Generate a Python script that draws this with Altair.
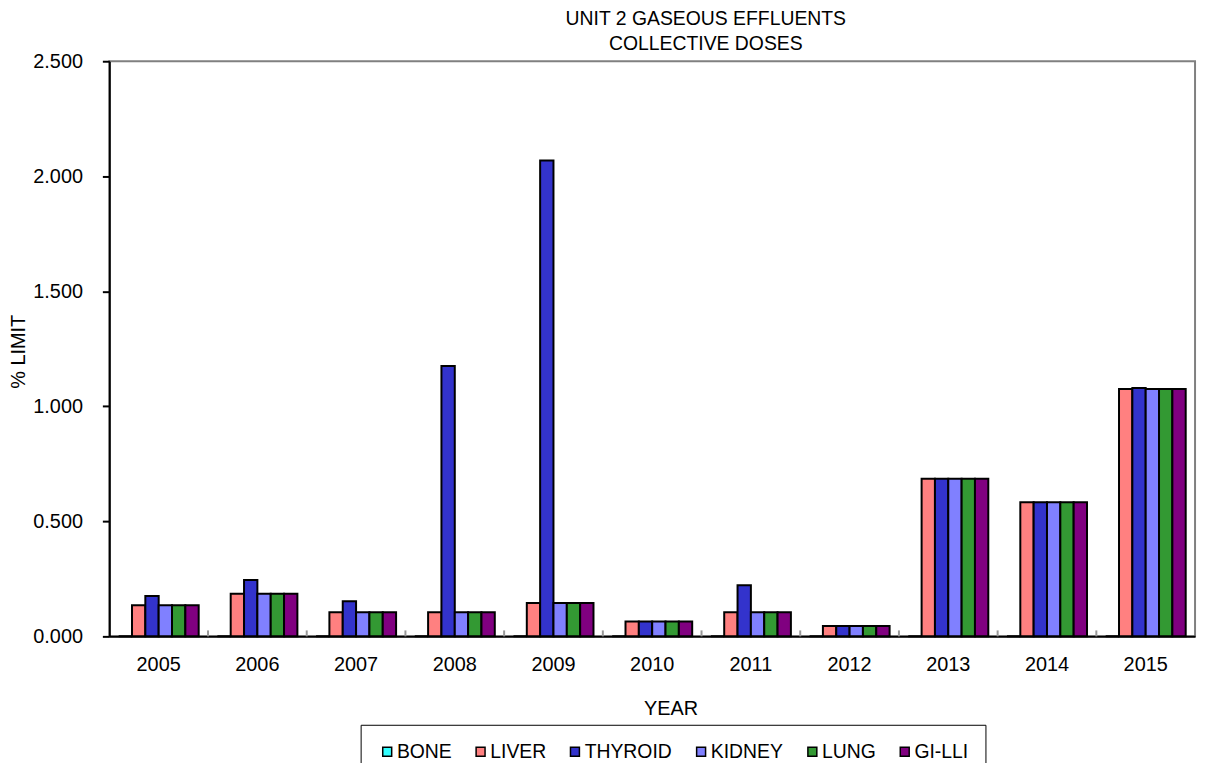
import altair as alt
import pandas as pd

years = [str(y) for y in range(2005, 2016)]
organs = ["BONE", "LIVER", "THYROID", "KIDNEY", "LUNG", "GI-LLI"]
colors = ["#33FFFF", "#FF8080", "#3333CC", "#8080FF", "#339933", "#800080"]

bone = [0.0, 0.0, 0.0, 0.0, 0.0, 0.0, 0.0, 0.0, 0.0, 0.0, 0.0]
liver = [0.135, 0.185, 0.105, 0.105, 0.145, 0.065, 0.105, 0.045, 0.685, 0.583, 1.075]
thyroid = [0.175, 0.245, 0.153, 1.175, 2.068, 0.065, 0.222, 0.045, 0.685, 0.583, 1.08]
kidney = [0.135, 0.185, 0.105, 0.105, 0.145, 0.065, 0.105, 0.045, 0.685, 0.583, 1.075]
lung = [0.135, 0.185, 0.105, 0.105, 0.145, 0.065, 0.105, 0.045, 0.685, 0.583, 1.075]
gilli = [0.135, 0.185, 0.105, 0.105, 0.145, 0.065, 0.105, 0.045, 0.685, 0.583, 1.075]

rows = []
for organ, vals in zip(organs, [bone, liver, thyroid, kidney, lung, gilli]):
    for y, v in zip(years, vals):
        rows.append({"year": y, "organ": organ, "value": v})
df = pd.DataFrame(rows)

FONT = "Liberation Sans"

xenc = alt.X(
    "year:N",
    scale=alt.Scale(paddingInner=0, paddingOuter=0),
    title="YEAR",
    axis=alt.Axis(
        ticks=False, labelAngle=0, labelPadding=18, labelFontSize=20,
        titleX=565, titleY=73, titleBaseline="middle", titleAlign="center",
        titleFontSize=20, titleFontWeight="normal",
    ),
)

bars = alt.Chart(df).mark_bar(stroke="black", strokeWidth=2).encode(
    x=xenc,
    xOffset=alt.XOffset("organ:N", sort=organs,
                        scale=alt.Scale(paddingOuter=0.7, paddingInner=0)),
    y=alt.Y(
        "value:Q",
        scale=alt.Scale(domain=[0, 2.5], nice=False),
        title="% LIMIT",
        axis=alt.Axis(
            values=[0, 0.5, 1.0, 1.5, 2.0, 2.5], format=".3f", grid=False,
            tickSize=7, tickColor="black", tickWidth=2, labelPadding=20,
            labelFontSize=20, titleX=-91, titleY=292, titleAngle=270,
            titleAlign="center", titleBaseline="middle", titleFontSize=20,
            titleFontWeight="normal",
        ),
    ),
    color=alt.Color(
        "organ:N", sort=organs,
        scale=alt.Scale(domain=organs, range=colors),
        legend=alt.Legend(
            title=None, orient="none", legendX=253, legendY=668,
            direction="horizontal", symbolType="square", symbolSize=81,
            symbolStrokeColor="black", symbolStrokeWidth=1.5,
            labelFontSize=19.5, labelFont=FONT, labelColor="black",
            columnPadding=19, labelOffset=0, padding=17,
            strokeColor="black",
        ),
    ),
)

tick_df = pd.DataFrame({"year": years[1:]})
ticks = alt.Chart(tick_df).mark_rule(color="#999999", strokeWidth=2).encode(
    x=alt.X("year:N", bandPosition=0),
    y=alt.value(573),
    y2=alt.value(579),
)

chart = alt.layer(bars, ticks).properties(
    width=1093,
    height=579,
    autosize=alt.AutoSizeParams(type="none"),
    padding={"left": 102, "top": 51, "right": 6, "bottom": 140},
    title=alt.TitleParams(
        text=["UNIT 2 GASEOUS EFFLUENTS", "COLLECTIVE DOSES"],
        fontSize=19.5, font=FONT, fontWeight="normal", color="black",
        anchor="middle", dx=54, dy=9, offset=6, lineHeight=25,
    ),
).configure_view(
    stroke="#808080", strokeWidth=2
).configure_axis(
    domainColor="black", domainWidth=2, labelFont=FONT, labelColor="black",
    titleFont=FONT, titleColor="black", zindex=1,
)

chart.save("out.html", embed_options={"renderer": "svg", "actions": False})
